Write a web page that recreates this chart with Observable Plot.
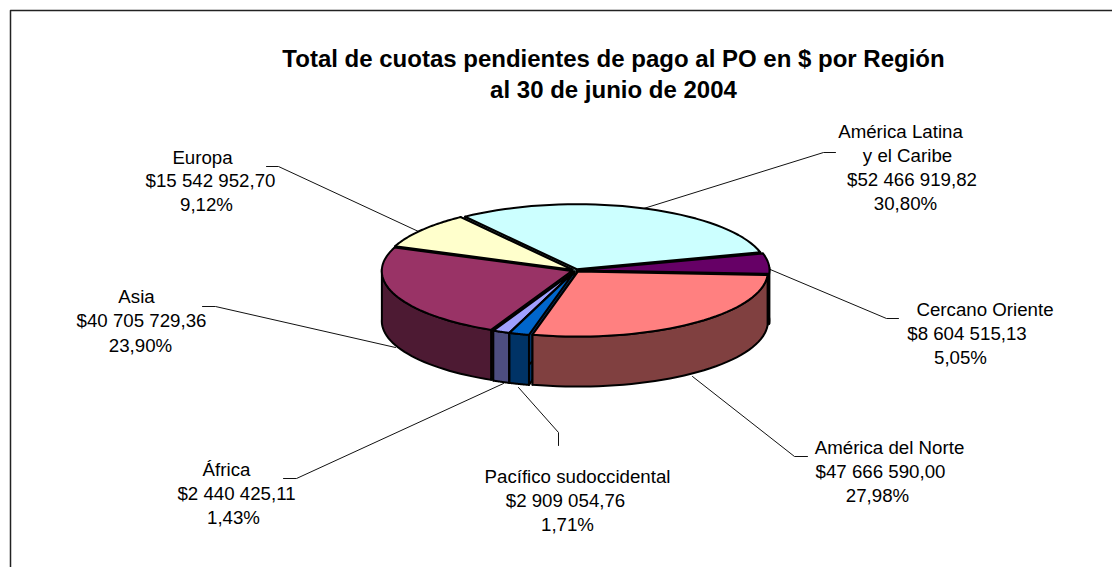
<!DOCTYPE html>
<html><head><meta charset="utf-8">
<style>html,body{margin:0;padding:0;background:#fff}svg{display:block}</style>
<script src="https://cdn.jsdelivr.net/npm/d3@7"></script>
<script src="https://cdn.jsdelivr.net/npm/@observablehq/plot@0.6"></script>
</head><body><div id="chart"></div>
<script>
const regions = [["América Latina","y el Caribe"],["Cercano Oriente"],["América del Norte"],["Pacífico sudoccidental"],["África"],["Asia"],["Europa"]];
const amounts = [52466919.82,8604515.13,47666590.00,2909054.76,2440425.11,40705729.36,15542952.70];
const amountLabels = ["$52 466 919,82","$8 604 515,13","$47 666 590,00","$2 909 054,76","$2 440 425,11","$40 705 729,36","$15 542 952,70"];
const shareLabels = ["30,80%","5,05%","27,98%","1,71%","1,43%","23,90%","9,12%"];
const topColors = ["#CCFFFF","#660066","#FF8080","#0066CC","#A0A0FF","#993366","#FFFFCC"];
const wallColors = ["#668080","#330033","#804040","#003366","#4D4D80","#4D1A33","#808066"];
const titleLines = ["Total de cuotas pendientes de pago al PO en $ por Región","al 30 de junio de 2004"];

// layout (page pixels)
const W=1112,H=567,cx=575,cy=270,rx=190,ry=65,depth=50,explode=4,startDeg=-36;
const paintOrder=[0,6,1,5,4,3,2];
const labelLineX=[[900,907,911.5,905],[984.5,966.5,960],[889,880,877],[577,565,567],[226,236,233],[136,141,140],[202,210,206]];
const labelLineY=[[132,156,180,204],[310,334,358],[448,472,496],[477,501,525],[470,494,518],[297,321,346],[158,181,205]];
const leaders=[
 [[835,152],[823,152],[640,209]],
 [[898,318],[886,318],[765,267]],
 [[807,456],[794,456],[692,376]],
 [[558,445],[558,432],[518,387]],
 [[283,478],[296,478],[503,383]],
 [[202,306],[215,306],[395,347]],
 [[266,166],[278,166],[418,231]]
];

const rad=d3.pie().sort(null).startAngle(startDeg*Math.PI/180).endAngle((startDeg+360)*Math.PI/180)(amounts);
const pt=(a,c)=>[c[0]+rx*Math.sin(a),c[1]-ry*Math.cos(a)];
const polys=[];
paintOrder.forEach((i,k)=>{
  const s=rad[i],mid=(s.startAngle+s.endAngle)/2;
  const c=[cx+explode*Math.sin(mid),cy-explode*(ry/rx)*Math.cos(mid)];
  const arc=d3.range(0,41).map(t=>s.startAngle+(s.endAngle-s.startAngle)*t/40);
  const add=(id,fill,pts)=>pts.forEach(p=>polys.push({id,fill,x:p[0],y:p[1]}));
  const down=p=>[p[0],p[1]+depth];
  const e0=pt(s.startAngle,c),e1=pt(s.endAngle,c);
  add(`${k}a`,wallColors[i],[c,e0,down(e0),down(c)]);
  add(`${k}b`,wallColors[i],[c,e1,down(e1),down(c)]);
  const front=arc.filter(a=>Math.cos(a)<=0.05);
  if(front.length>1){
    const top=front.map(a=>pt(a,c));
    add(`${k}c`,wallColors[i],[...top,...top.slice().reverse().map(down)]);
  }
  add(`${k}d`,topColors[i],[c,...arc.map(a=>pt(a,c))]);
});
const leaderPts=leaders.flatMap((l,i)=>l.map(p=>({i,x:p[0],y:p[1]})));
const labels=regions.flatMap((r,i)=>[...r,amountLabels[i],shareLabels[i]].map((t,j)=>({t,x:labelLineX[i][j],y:labelLineY[i][j]})));
const font="Liberation Sans, Arial, sans-serif";
const chart=Plot.plot({
  width:W,height:H,margin:0,
  x:{domain:[0,W],range:[0,W],axis:null},
  y:{domain:[0,H],range:[0,H],axis:null},
  marks:[
    Plot.line([[10,567],[10,10],[1112,10]],{x:d=>d[0],y:d=>d[1],stroke:"#222",strokeWidth:1.5}),
    Plot.line(leaderPts,{x:"x",y:"y",z:"i",stroke:"#111",strokeWidth:1}),
    Plot.line(polys,{x:"x",y:"y",z:"id",fill:"fill",stroke:"#000",strokeWidth:2,curve:"linear-closed",strokeLinejoin:"round"}),
    Plot.text(labels,{x:"x",y:"y",text:"t",fontSize:18.7,fontFamily:font,fill:"#000",textAnchor:"middle"}),
    Plot.text(titleLines,{x:()=>613,y:(d,i)=>59+i*31,text:d=>d,fontSize:24,fontWeight:"bold",fontFamily:font,fill:"#000"})
  ]
});
document.getElementById("chart").append(chart);
</script></body></html>
